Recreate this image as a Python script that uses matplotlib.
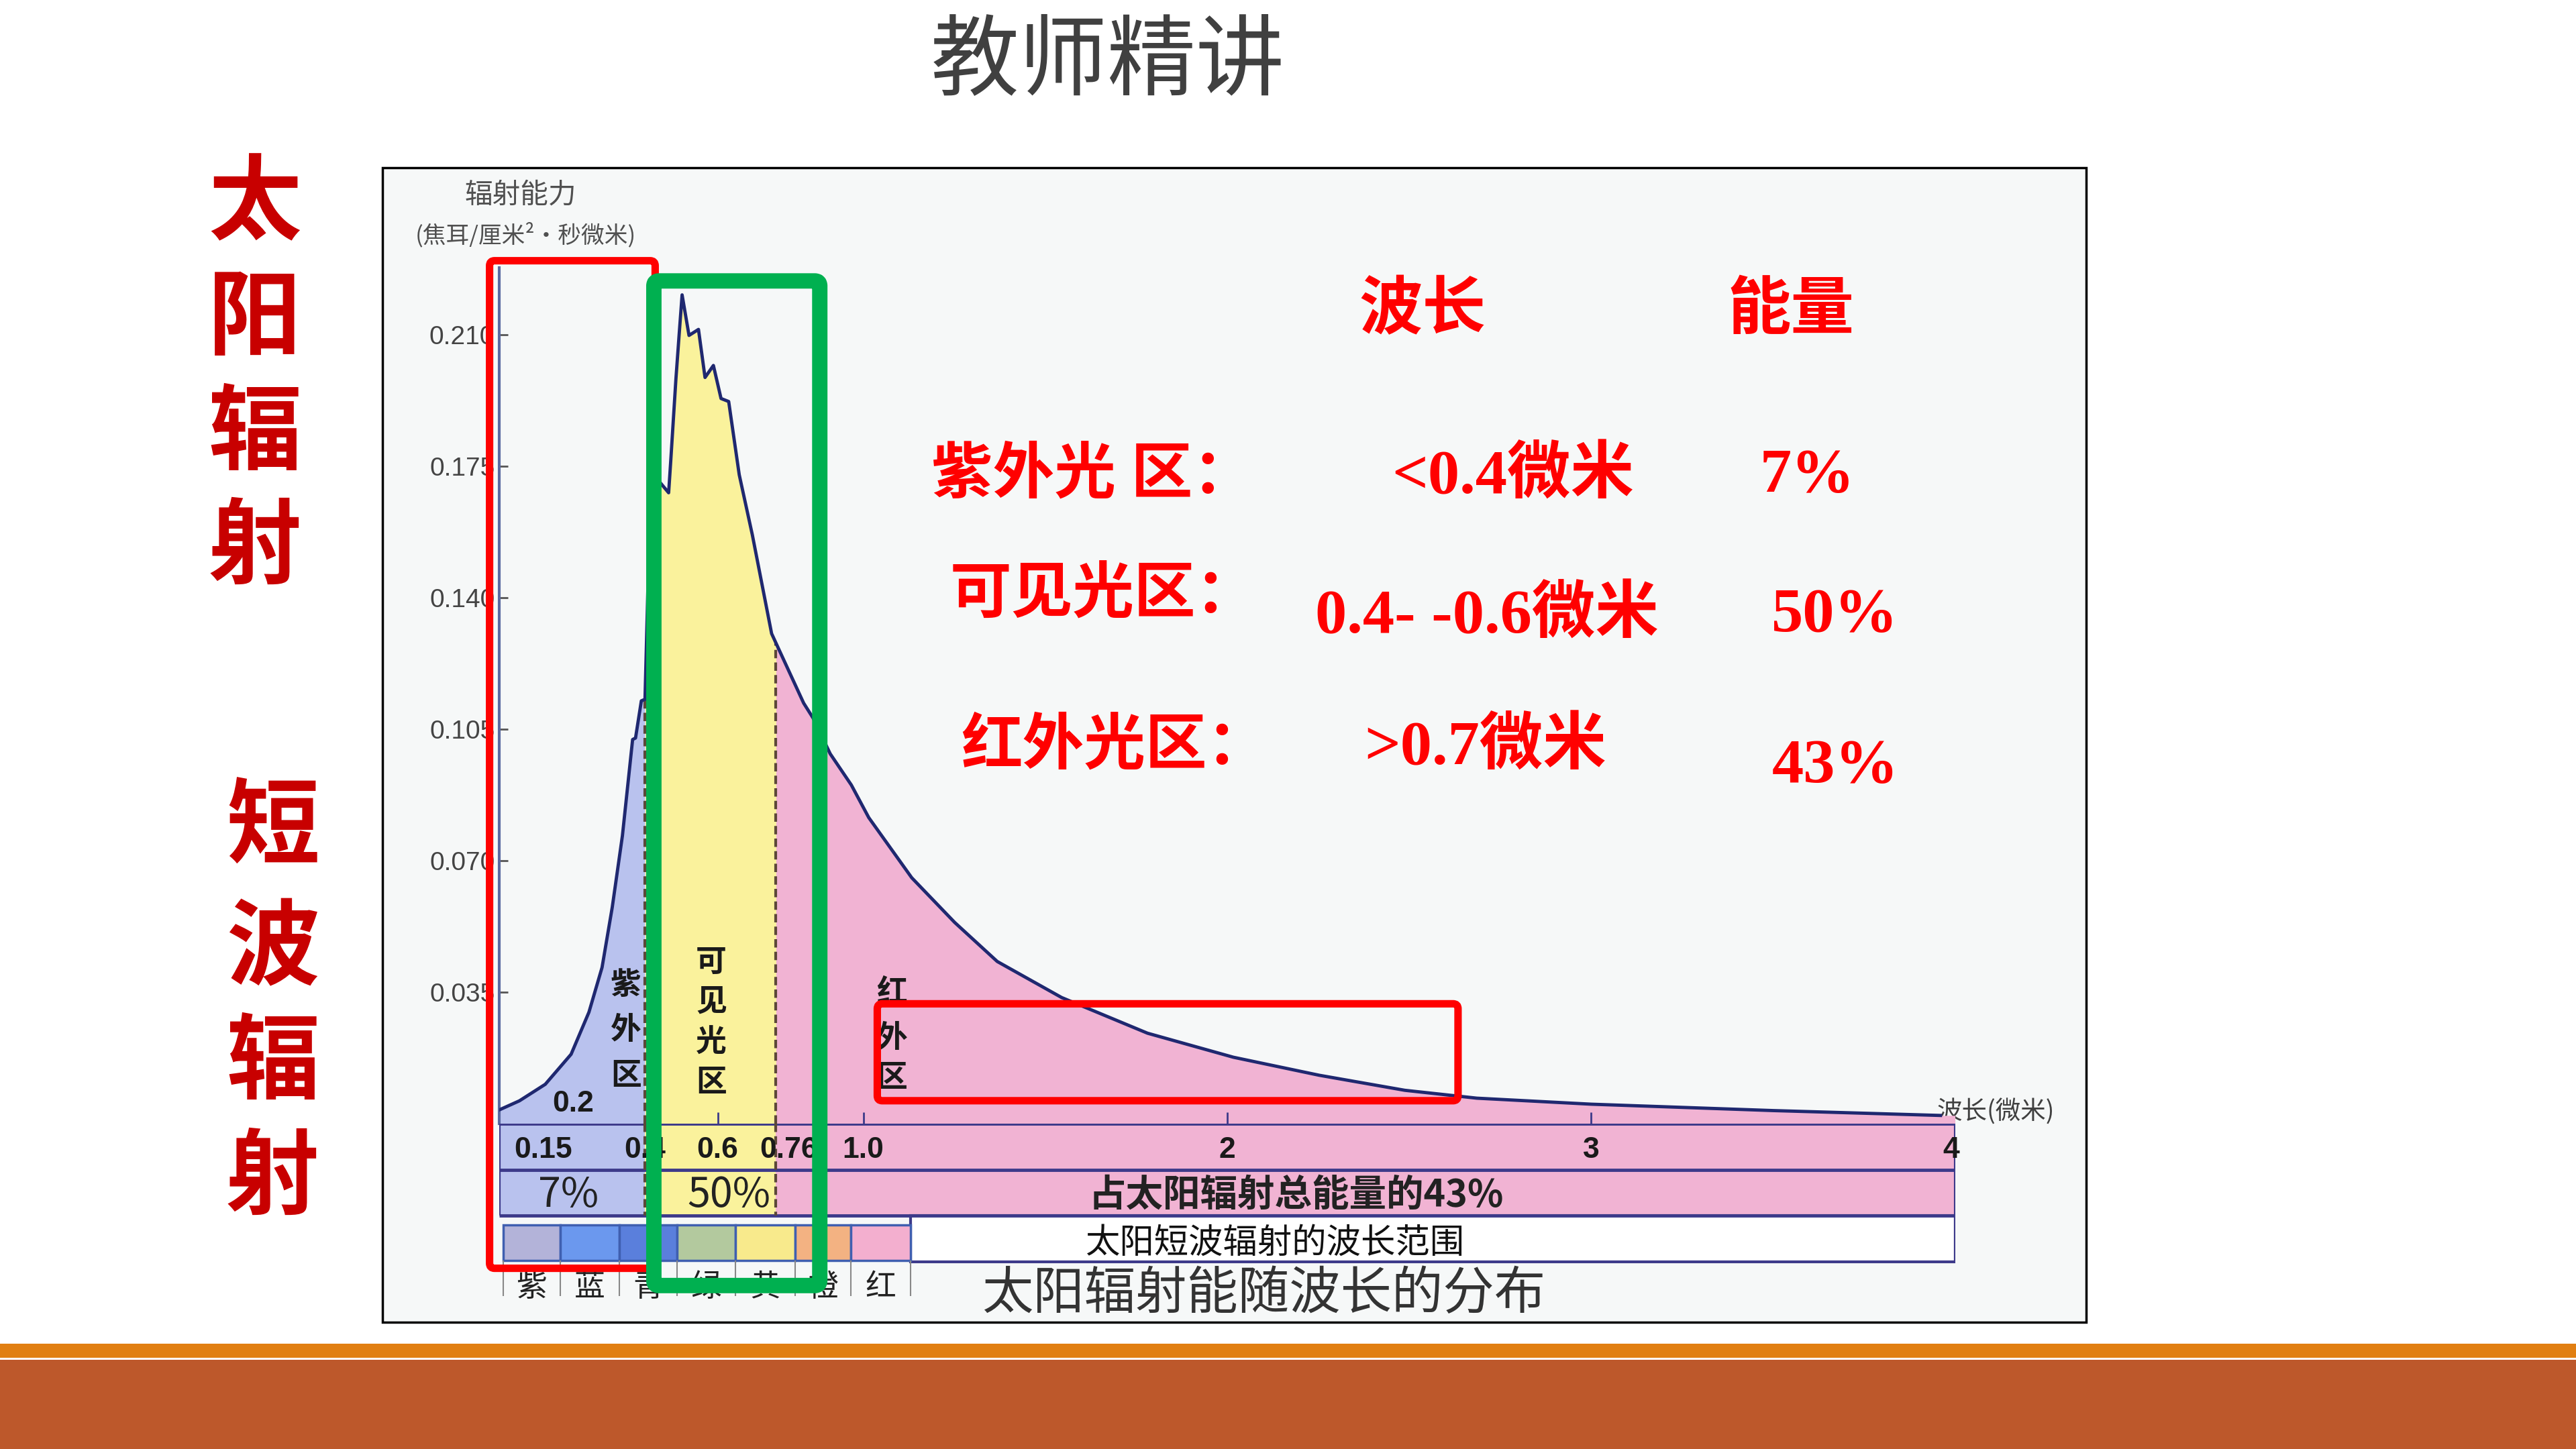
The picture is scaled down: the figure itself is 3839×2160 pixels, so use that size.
import matplotlib
matplotlib.use("Agg")
import matplotlib.pyplot as plt
from matplotlib import font_manager
from matplotlib.patches import Rectangle, FancyBboxPatch
import numpy as np

# ---- values ----
# spectrum curve: wavelength (micrometre) and radiation power
wavelength = [0.0, 0.055, 0.126, 0.197, 0.246, 0.282, 0.31, 0.338, 0.366, 0.374, 0.39, 0.40,
              0.41, 0.43, 0.441, 0.465, 0.471, 0.485, 0.494, 0.502, 0.521, 0.547, 0.565,
              0.588, 0.609, 0.63, 0.659, 0.695, 0.748, 0.836, 0.862, 0.909, 0.967, 1.015,
              1.133, 1.251, 1.368, 1.545, 1.781, 2.017, 2.253, 2.488, 2.686, 3.0, 3.5, 3.96]
energy = [0.0037, 0.0061, 0.0105, 0.0185, 0.0297, 0.0416, 0.0576, 0.0767, 0.1023, 0.1027, 0.1126, 0.1130,
          0.150, 0.168, 0.1708, 0.168, 0.1768, 0.1983, 0.2103, 0.2207, 0.2099, 0.2115, 0.1987,
          0.2019, 0.1931, 0.1923, 0.1728, 0.1568, 0.1305, 0.112, 0.108, 0.0985, 0.0902, 0.0815,
          0.0655, 0.0536, 0.0432, 0.0336, 0.0241, 0.0177, 0.0129, 0.0089, 0.0068, 0.0052, 0.0035, 0.0022]

# ultraviolet / visible / infrared
region_edges = [0.0, 0.4, 0.76, 4.0]
region_colors = ["#b9c2ee", "#faf29c", "#f1b3d3"]
region_labels = ["紫外区", "可见光区", "红外区"]
region_share = ["7%", "50%", "占太阳辐射总能量的43%"]

y_ticks = [0.035, 0.070, 0.105, 0.140, 0.175, 0.210]
x_tick_vals = [0.15, 0.4, 0.6, 0.76, 1.0, 2, 3, 4]
x_tick_text = ["0.15", "0.4", "0.6", "0.76", "1.0", "2", "3", "4"]

# colour strip under the chart
strip_names = ["紫", "蓝", "青", "绿", "黄", "橙", "红"]
strip_edges = [0.01, 0.167, 0.33, 0.488, 0.648, 0.813, 0.966, 1.129]
strip_colors = ["#b3b3d9", "#6b98ee", "#5a7fdc", "#b3c99e", "#f8ea8c", "#f3b282", "#f3afcf"]

# summary table on the right
table_rows = ["紫外光 区：", "可见光区：", "红外光区："]
table_wave = ["<0.4微米", "0.4- -0.6微米", ">0.7微米"]
table_energy = ["7%", "50%", "43%"]

names = {f.name for f in font_manager.fontManager.ttflist}
NARROW = "Liberation Sans Narrow" if "Liberation Sans Narrow" in names else "Liberation Sans"
CJK = "Noto Sans CJK SC"
SERIF = ["Liberation Serif", CJK]
plt.rcParams["font.family"] = [CJK, "DejaVu Sans"]

W, H = 1568.0, 882.0
fig = plt.figure(figsize=(38.39, 21.6), dpi=100)


def slide_axes(l, t, r, b, z):
    return fig.add_axes([l / W, 1 - b / H, (r - l) / W, (b - t) / H], zorder=z)


# background layer: slide, picture frame, bottom bars
bg = slide_axes(0, 0, W, H, 0)
bg.set_xlim(0, W)
bg.set_ylim(H, 0)
bg.axis("off")
bg.add_patch(Rectangle((233, 102), 1037, 703, fc="#f6f8f8", ec="black", lw=2.5))
bg.add_patch(Rectangle((0, 818), W, 8.5, fc="#e17f12", ec="none"))
bg.add_patch(Rectangle((0, 827.5), W, H - 827.5, fc="#bd582b", ec="none"))
bg.text(317, 119, "辐射能力", ha="center", va="center", fontsize=30, color="#505050")
bg.text(320, 143, "(焦耳/厘米²·秒微米)", ha="center", va="center", fontsize=25, color="#505050")
bg.text(1215, 677, "波长(微米)", ha="center", va="center", fontsize=27, color="#404040")

# spectrum axes
ax = slide_axes(304, 163, 1190, 684, 2)
ax.set_xlim(0, 4)
ax.set_ylim(0, (684 - 163) / 2286)
ax.patch.set_alpha(0)
for s in ["top", "right", "bottom"]:
    ax.spines[s].set_visible(False)
ax.spines["left"].set_color("#5a6aa0")
ax.spines["left"].set_linewidth(3)
ax.set_xticks([])
ax.set_yticks(y_ticks)
ax.set_yticklabels(["%.3f" % v for v in y_ticks], fontfamily=NARROW, fontsize=28, color="#444444")
ax.tick_params(axis="y", direction="in", length=9, width=2, color="#555555", pad=5)

wl = np.array(wavelength)
en = np.array(energy)
for a, b, c in zip(region_edges[:-1], region_edges[1:], region_colors):
    xs = np.concatenate(([a], wl[(wl > a) & (wl < b)], [b]))
    ax.fill_between(xs, 0, np.interp(xs, wl, en), color=c, lw=0, zorder=1)
ax.plot(wl, en, color="#1f2870", lw=3.5, zorder=4)
for xb in region_edges[1:-1]:
    ax.plot([xb, xb], [0, np.interp(xb, wl, en)], ls=(0, (3, 1.5)), color="#5c4838", lw=3, zorder=3)
ax.vlines([0.6, 1.0, 2.0, 3.0], 0, 0.003, color="#3d3a8a", lw=2)

ax.text(349, 672, "0.2", transform=bg.transData, ha="center", va="center",
        fontsize=32, fontweight="bold", fontfamily=NARROW, color="#1a1a1a")
for lab, x, ys in zip(region_labels, [381, 433, 543],
                      [[600, 627, 655], [586, 610, 635, 659], [604, 632, 656]]):
    for ch, y in zip(lab, ys):
        ax.text(x, y, ch, transform=bg.transData, ha="center", va="center",
                fontsize=33, fontweight="bold", color="#1a1a1a", zorder=5)

# table rows under the axis
bd = slide_axes(304, 684, 1190, 800, 2)
bd.set_xlim(0, 4)
bd.set_ylim(116 / 28, 0)
bd.axis("off")
line_c = "#3d3a8a"
for a, b, c in zip(region_edges[:-1], region_edges[1:], region_colors):
    bd.add_patch(Rectangle((a, 0), b - a, 2, fc=c, ec="none"))
bd.add_patch(Rectangle((strip_edges[-1], 2), 4 - strip_edges[-1], 1, fc="white", ec=line_c, lw=3))
bd.hlines([0, 1, 2], 0, 4, color=line_c, lw=3.5)
bd.vlines(0, 0, 2, color=line_c, lw=3)
bd.vlines(4, 0, 3, color=line_c, lw=3)
for xb in region_edges[1:-1]:
    bd.plot([xb, xb], [0, 2], ls=(0, (3, 1.5)), color="#5c4838", lw=3)
# label offsets so the tick numbers sit as in the picture
tick_shift = {"0.15": -0.03, "0.76": 0.035, "4": -0.01}
for v, t in zip(x_tick_vals, x_tick_text):
    bd.text(v + tick_shift.get(t, 0), 0.58, t, ha="center", va="center", fontsize=32,
            fontweight="bold", fontfamily=NARROW, color="#1a1a1a")
for x, t, fs in zip([0.19, 0.63, 2.19], region_share, [44, 44, 40]):
    bd.text(x, 1.55, t, ha="center", va="center", fontsize=fs,
            fontweight="bold" if len(t) > 4 else "normal", color="#222222")
for i in range(len(strip_names)):
    bd.add_patch(Rectangle((strip_edges[i], 2.2), strip_edges[i + 1] - strip_edges[i], 0.78,
                           fc=strip_colors[i], ec="#3f5fb0", lw=2.5))
    bd.text((strip_edges[i] + strip_edges[i + 1]) / 2, 3.55, strip_names[i],
            ha="center", va="center", fontsize=33, color="#222222")
bd.vlines(strip_edges, 2.98, 3.75, color="#888888", lw=1.5)
bd.text(2.13, 2.6, "太阳短波辐射的波长范围", ha="center", va="center", fontsize=37, color="#111111")
bd.text(2.10, 3.7, "太阳辐射能随波长的分布", ha="center", va="center", fontsize=55,
        fontweight="light", color="#333333")

# overlay: highlight boxes and slide text
ov = slide_axes(0, 0, W, H, 5)
ov.set_xlim(0, W)
ov.set_ylim(H, 0)
ov.axis("off")


def box(x0, y0, x1, y1, color, lw):
    ov.add_patch(FancyBboxPatch((x0, y0), x1 - x0, y1 - y0, boxstyle="round,pad=0,rounding_size=3",
                                fc="none", ec=color, lw=lw, joinstyle="round"))


box(298, 158.7, 398.8, 772, "#ff0000", 8)
box(534, 611, 887.5, 670, "#ff0000", 8)
box(398, 171, 499, 782.5, "#00b050", 16.5)

ov.text(674, 38, "教师精讲", ha="center", va="center", fontsize=95, fontweight="medium", color="#404040")
for ch, y in zip("太阳辐射", [125, 195, 265, 334]):
    ov.text(155, y, ch, ha="center", va="center", fontsize=100, fontweight="bold", color="#c80000")
for ch, y in zip("短波辐射", [505, 578, 648, 718]):
    ov.text(166, y, ch, ha="center", va="center", fontsize=100, fontweight="bold", color="#c80000")

red = "#ff0000"
ov.text(866, 190, "波长", ha="center", va="center", fontsize=68, color=red, family=SERIF, fontweight="bold")
ov.text(1090, 190, "能量", ha="center", va="center", fontsize=68, color=red, family=SERIF, fontweight="bold")
for t, x, y in zip(table_rows, [567, 578, 585], [290, 363, 455]):
    ov.text(x, y, t, ha="left", va="center", fontsize=66, color=red, family=SERIF, fontweight="bold")
for t, x, y in zip(table_wave, [921, 905, 904], [290, 375, 455]):
    ov.text(x, y, t, ha="center", va="center", fontsize=68, color=red, family=SERIF, fontweight="bold")
for t, x, y in zip(table_energy, [1100, 1117, 1117], [290, 375, 467]):
    ov.text(x, y, t, ha="center", va="center", fontsize=68, color=red, family=SERIF, fontweight="bold")

fig.savefig("out.png", dpi=100)
